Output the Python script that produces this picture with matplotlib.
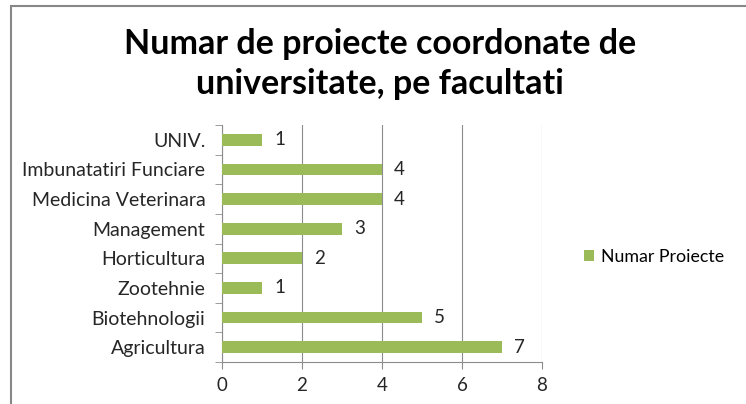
import matplotlib

matplotlib.use("Agg")
import matplotlib.pyplot as plt
from matplotlib.patches import Rectangle

faculties = [
    "Agricultura",
    "Biotehnologii",
    "Zootehnie",
    "Horticultura",
    "Management",
    "Medicina Veterinara",
    "Imbunatatiri Funciare",
    "UNIV.",
]
projects = [7, 5, 1, 2, 3, 4, 4, 1]
x_ticks = [0, 2, 4, 6, 8]

plt.rcParams["font.family"] = ["Lato", "DejaVu Sans"]

fig = plt.figure(figsize=(7.46, 4.04), dpi=100)
ax = fig.add_axes([222 / 746, 1 - 362 / 404, 320 / 746, 237 / 404])

# chart border (cut off at right and bottom like the reference)
fig.patches.append(Rectangle((11 / 746, -0.1), 1.0, 1 - 6 / 404 + 0.1,
                             transform=fig.transFigure, fill=False,
                             edgecolor="#878787", linewidth=1.5))

y = list(range(len(faculties)))
bars = ax.barh(y, projects, height=0.4, color="#9BBB59", zorder=3)
for yi, v in zip(y, projects):
    ax.text(v + 0.3, yi, str(v), va="center", ha="left", fontsize=13.5, color="#262626")

ax.set_xlim(0, 8)
ax.set_ylim(-0.5, len(faculties) - 0.5)
ax.set_xticks(x_ticks)
ax.set_yticks(y)
ax.set_yticklabels(faculties)
ax.set_yticks([i - 0.5 for i in range(len(faculties) + 1)], minor=True)
ax.tick_params(axis="y", which="major", length=0, pad=12, labelsize=14, labelcolor="#262626")
ax.tick_params(axis="y", which="minor", length=5, color="#8c8c8c")
ax.tick_params(axis="x", length=5, color="#8c8c8c", labelsize=13.5, labelcolor="#262626", pad=6)
ax.grid(True, axis="x", color="#8c8c8c", linewidth=0.8, zorder=0)
for s in ["top", "right"]:
    ax.spines[s].set_visible(False)
for s in ["left", "bottom"]:
    ax.spines[s].set_color("#8c8c8c")

fig.text(380 / 746, 1 - 64 / 404, "Numar de proiecte coordonate de\nuniversitate, pe facultati",
         ha="center", va="center", fontsize=24.5, fontweight="bold", linespacing=1.3, color="black")

ax.legend([bars], ["Numar Proiecte"], loc="center left", bbox_to_anchor=(568 / 746, 1 - 257 / 404),
          bbox_transform=fig.transFigure, frameon=False, fontsize=12.8, handlelength=0.55,
          handleheight=0.55, handletextpad=0.4)

fig.savefig("out.png")
